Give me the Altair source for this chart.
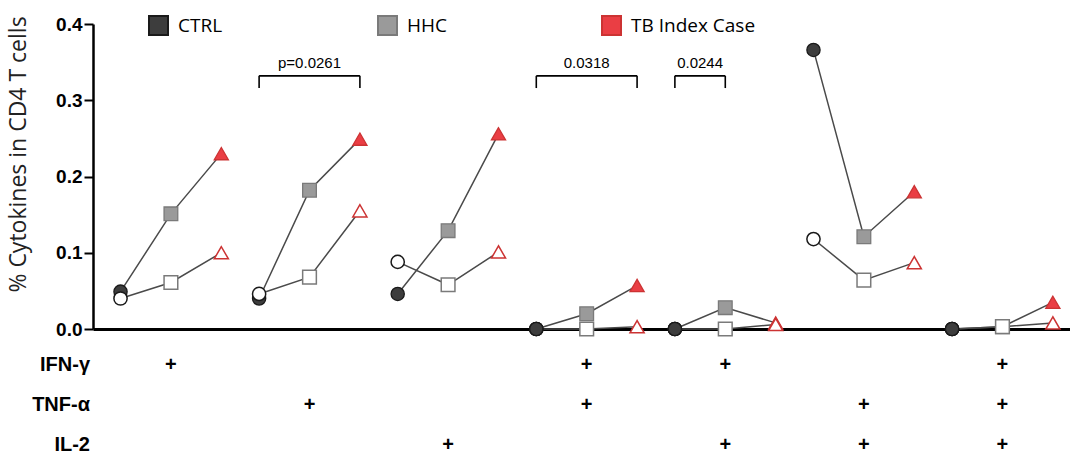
import altair as alt
import pandas as pd

# ---- data ----
categories = ["CTRL", "HHC", "TB Index Case"]
marker_keys = ["ctrl", "hhc", "tb"]
combos = ["IFN", "TNF", "IL2", "IFN+TNF", "IFN+IL2", "TNF+IL2", "IFN+TNF+IL2"]

filled_ctrl = [0.049, 0.040, 0.046, 0.000, 0.000, 0.366, 0.000]
filled_hhc = [0.151, 0.182, 0.129, 0.020, 0.028, 0.121, 0.003]
filled_tb = [0.230, 0.249, 0.256, 0.057, 0.008, 0.180, 0.035]

open_ctrl = [0.040, 0.046, 0.088, 0.000, 0.000, 0.118, 0.000]
open_hhc = [0.061, 0.068, 0.058, 0.000, 0.000, 0.064, 0.003]
open_tb = [0.100, 0.155, 0.101, 0.003, 0.006, 0.087, 0.008]

row_names = ["IFN-γ", "TNF-α", "IL-2"]
ifn_plus = [1, 0, 0, 1, 1, 0, 1]
tnf_plus = [0, 1, 0, 1, 0, 1, 1]
il2_plus = [0, 0, 1, 0, 1, 1, 1]

bracket_labels = ["p=0.0261", "0.0318", "0.0244"]
bracket_group = [1, 3, 4]
bracket_from = [0, 0, 0]
bracket_to = [2, 2, 1]

# ---- build tables ----
GSTEP = 2.75
rows = []
for series, vals in [("filled", [filled_ctrl, filled_hhc, filled_tb]),
                     ("open", [open_ctrl, open_hhc, open_tb])]:
    for g, combo in enumerate(combos):
        for j, cat in enumerate(categories):
            rows.append({"series": series, "combo": combo, "category": cat,
                         "mk": marker_keys[j],
                         "x": g * GSTEP + j, "value": vals[j][g],
                         "key": series + combo})
df = pd.DataFrame(rows)

br = pd.DataFrame({"label": bracket_labels, "g": bracket_group,
                   "f": bracket_from, "t": bracket_to})
br["x1"] = br["g"] * GSTEP + br["f"]
br["x2"] = br["g"] * GSTEP + br["t"]
br["xm"] = (br["x1"] + br["x2"]) / 2

xscale = alt.Scale(domain=[-0.546, 18.84], nice=False, zero=False)
yscale = alt.Scale(domain=[0, 0.4], nice=False)

X = alt.X("x:Q", scale=xscale,
          axis=alt.Axis(labels=False, ticks=False, title=None, grid=False,
                        domainWidth=3, domainColor="black"))
Y = alt.Y("value:Q", scale=yscale,
          axis=alt.Axis(values=[0, 0.1, 0.2, 0.3, 0.4], format=".1f",
                        title="% Cytokines in CD4 T cells",
                        titleFont="Open Sans", titleFontSize=23,
                        titleFontWeight="normal", titleColor="#222",
                        titleX=-75, titleY=130, titleAngle=270,
                        titleAlign="center", titleBaseline="middle",
                        labelFont="Liberation Sans", labelFontWeight="bold",
                        labelFontSize=19, labelColor="black", labelPadding=2,
                        tickSize=9, tickWidth=2, tickColor="black",
                        domainWidth=2.5, domainColor="black", grid=False))

fill_scale = alt.Scale(domain=categories, range=["#3d3d3d", "#9a9a9a", "#ea3e44"])
stroke_scale = alt.Scale(domain=categories, range=["#1a1a1a", "#7a7a7a", "#cc3333"])
shape_scale = alt.Scale(domain=marker_keys, range=["circle", "square", "triangle-up"])
size_scale = alt.Scale(domain=marker_keys, range=[175, 200, 190])

leg = alt.Legend(orient="none", legendX=55, legendY=-9, direction="horizontal",
                 columns=3, columnPadding=151, title=None, padding=0,
                 symbolType="square", symbolSize=361, symbolStrokeWidth=2,
                 symbolOpacity=1,
                 labelFont="Open Sans", labelFontSize=19, labelColor="black",
                 labelOffset=9, labelLimit=300)

lines = alt.Chart(df).mark_line(color="#4a4a4a", strokeWidth=1.5).encode(
    x=X, y=Y, detail="key:N", order="x:Q")


def filled_layer(data):
    return alt.Chart(data).mark_point(
        filled=True, opacity=1, strokeWidth=1.3).encode(
        x=X, y=Y,
        shape=alt.Shape("mk:N", scale=shape_scale, legend=None),
        size=alt.Size("mk:N", scale=size_scale, legend=None),
        fill=alt.Fill("category:N", scale=fill_scale, legend=leg),
        stroke=alt.Stroke("category:N", scale=stroke_scale, legend=leg))


filled_pts = filled_layer(df[df.series == "filled"])

open_pts = alt.Chart(df[df.series == "open"]).mark_point(
    filled=True, opacity=1, strokeWidth=1.5).encode(
    x=X, y=Y,
    shape=alt.Shape("mk:N", scale=shape_scale, legend=None),
    size=alt.Size("mk:N", scale=size_scale, legend=None),
    fill=alt.value("white"),
    stroke=alt.Stroke("category:N", scale=stroke_scale, legend=leg))

# filled control points lying on the baseline sit on top, as in the original
filled_zero = filled_layer(df[(df.series == "filled") & (df.value == 0)])

TOP, LEG, TXT = 0.332, 0.316, 0.349
b_h = alt.Chart(br).mark_rule(color="black", strokeWidth=1.6).encode(
    x=alt.X("x1:Q", scale=xscale), x2="x2:Q", y=alt.datum(TOP))
b_l = alt.Chart(br).mark_rule(color="black", strokeWidth=1.6).encode(
    x=alt.X("x1:Q", scale=xscale), y=alt.datum(TOP), y2=alt.datum(LEG))
b_r = alt.Chart(br).mark_rule(color="black", strokeWidth=1.6).encode(
    x=alt.X("x2:Q", scale=xscale), y=alt.datum(TOP), y2=alt.datum(LEG))
b_t = alt.Chart(br).mark_text(font="Liberation Sans", fontSize=15,
                              baseline="middle", color="black").encode(
    x=alt.X("xm:Q", scale=xscale), y=alt.datum(TXT), text="label:N")

layers = [lines, filled_pts, open_pts, filled_zero, b_h, b_l, b_r, b_t]

row_y = [341, 381, 421]
for name, flags, ypix in zip(row_names, [ifn_plus, tnf_plus, il2_plus], row_y):
    pdf = pd.DataFrame({"x": [g * GSTEP + 1 for g in range(len(combos))],
                        "flag": flags})
    pdf = pdf[pdf.flag == 1]
    layers.append(alt.Chart(pdf).mark_text(
        text="+", font="Liberation Sans", fontWeight="bold", fontSize=20,
        baseline="middle", color="black").encode(
        x=alt.X("x:Q", scale=xscale), y=alt.value(ypix)))
    layers.append(alt.Chart(pd.DataFrame({"name": [name]})).mark_text(
        font="Liberation Sans", fontWeight="bold", fontSize=20, align="right",
        baseline="middle", color="black").encode(
        x=alt.value(-3), y=alt.value(ypix), text="name:N"))

chart = alt.layer(*layers).properties(
    width=977, height=305,
    autosize=alt.AutoSizeParams(type="none"),
    padding={"left": 93, "top": 24, "right": 0, "bottom": 126},
    background="white",
).configure_view(stroke=None)

chart.save("out.html", embed_options={"renderer": "svg", "actions": False})
